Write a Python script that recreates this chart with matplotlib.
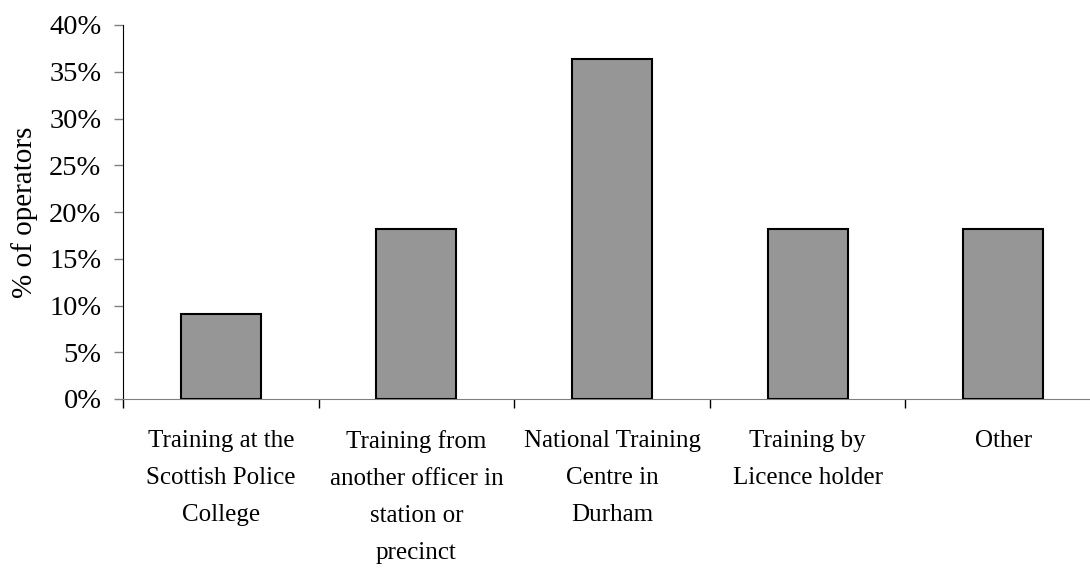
import numpy as np
import matplotlib.pyplot as plt
from matplotlib.ticker import FuncFormatter, FixedLocator

# Kategorien und Werte (Anteil der Operatoren in %)
kategorien = ["Training at the\nScottish Police\nCollege",
              "Training from\nanother officer in\nstation or\nprecinct",
              "National Training\nCentre in\nDurham",
              "Training by\nLicence holder",
              "Other"]
werte = [9.1, 18.2, 36.4, 18.2, 18.2]

plt.rcParams['font.family'] = ['Liberation Serif', 'DejaVu Serif']

fig = plt.figure(figsize=(10.9, 5.68), dpi=100)
ax = fig.add_axes([123/1090, 169/568, 978/1090, 374/568])

pos = np.arange(len(werte)) + 0.5
ax.bar(pos, werte, width=0.41, color='#969696', edgecolor='black', linewidth=1.5, zorder=3)

ax.set_xlim(0, len(werte))
ax.set_ylim(0, 40)

# y Achse
ax.set_yticks(np.arange(0, 41, 5))
ax.yaxis.set_major_formatter(FuncFormatter(lambda v, p: "%d%%" % v))
ax.tick_params(axis='y', direction='out', length=6.5, width=1, color='#808080',
               labelsize=20.5, pad=9)
ax.set_ylabel("% of operators", fontsize=21, labelpad=8)

# x Achse: Striche an den Grenzen, Beschriftung in der Mitte
ax.xaxis.set_major_locator(FixedLocator(np.arange(0, len(werte) + 1)))
ax.xaxis.set_major_formatter(FuncFormatter(lambda v, p: ""))
ax.xaxis.set_minor_locator(FixedLocator(pos))
ax.set_xticklabels(kategorien, minor=True, fontsize=18, linespacing=1.9)
ax.tick_params(axis='x', which='major', direction='out', length=6.5, width=1, color='black')
ax.tick_params(axis='x', which='minor', length=0, pad=22)

ax.spines['top'].set_visible(False)
ax.spines['right'].set_visible(False)
ax.spines['bottom'].set_color('#808080')
ax.spines['left'].set_color('black')

plt.savefig("out.png", dpi=100)
